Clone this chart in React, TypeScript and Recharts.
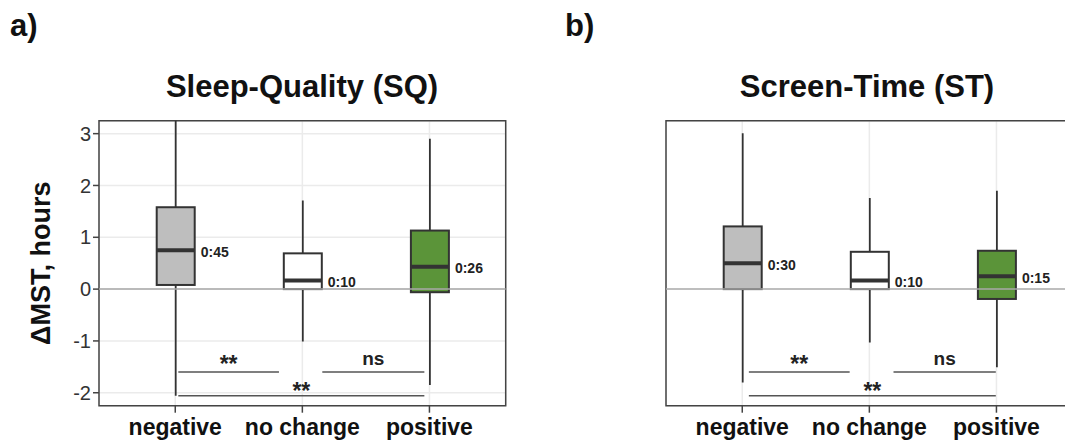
import {
  BarChart,
  Bar,
  XAxis,
  YAxis,
  CartesianGrid,
  ReferenceLine,
  ReferenceArea,
} from "recharts";

const categories = ["negative", "no change", "positive"];
const boxColors = ["#bebebe", "#ffffff", "#5b9439"];

// Sleep-Quality (SQ), ΔMST in hours
const sqMin = [-2.06, -1.01, -1.85];
const sqQ1 = [0.08, 0.0, -0.06];
const sqMedian = [0.75, 0.167, 0.433];
const sqQ3 = [1.58, 0.69, 1.13];
const sqMax = [3.4, 1.71, 2.9];
const sqMedianLabels = ["0:45", "0:10", "0:26"];

// Screen-Time (ST)
const stMin = [-1.8, -1.03, -1.51];
const stQ1 = [0.0, 0.0, -0.19];
const stMedian = [0.5, 0.167, 0.25];
const stQ3 = [1.21, 0.72, 0.74];
const stMax = [3.01, 1.76, 1.9];
const stMedianLabels = ["0:30", "0:10", "0:15"];

// significance brackets (x in category units, 1 = negative)
const sigLabels = ["**", "ns", "**"];
const sigY = [-1.6, -1.6, -2.06];
const sigLabelOffset = [0, 7, -3.5];
const sigFontSize = [23, 19, 23];
const sqSigFrom = [1.024, 2.157, 1.024];
const sqSigTo = [1.816, 2.96, 2.96];
const stSigFrom = [1.052, 2.19, 1.052];
const stSigTo = [1.845, 2.995, 2.995];

const yTicks = [-2, -1, 0, 1, 2, 3];
const xTicks = [1, 2, 3];
const FONT = "'Liberation Sans', Arial, Helvetica, sans-serif";

const makeRows = (
  min: number[],
  q1: number[],
  med: number[],
  q3: number[],
  max: number[],
  labels: string[]
) =>
  categories.map((name, i) => ({
    name,
    pos: i + 1,
    min: min[i],
    q1: q1[i],
    median: med[i],
    q3: q3[i],
    max: max[i],
    label: labels[i],
    fill: boxColors[i],
  }));

const sqRows = makeRows(sqMin, sqQ1, sqMedian, sqQ3, sqMax, sqMedianLabels);
const stRows = makeRows(stMin, stQ1, stMedian, stQ3, stMax, stMedianLabels);

const BoxShape = (props: any) => {
  const { x, y, width, height, payload } = props;
  const top = y;
  const bottom = y + height;
  const toPx = (v: number) =>
    top + ((payload.max - v) / (payload.max - payload.min)) * (bottom - top);
  const cx = x + width / 2;
  const q1 = toPx(payload.q1);
  const q3 = toPx(payload.q3);
  const med = toPx(payload.median);
  return (
    <g>
      <line x1={cx} x2={cx} y1={toPx(payload.max)} y2={q3} stroke="#333" strokeWidth={1.8} />
      <line x1={cx} x2={cx} y1={q1} y2={toPx(payload.min)} stroke="#333" strokeWidth={1.8} />
      <rect x={x} y={q3} width={width} height={q1 - q3} fill={payload.fill} stroke="#333" strokeWidth={2} />
      <line x1={x} x2={x + width} y1={med} y2={med} stroke="#333" strokeWidth={4} />
      <text
        x={x + width + 6}
        y={med + 1.5}
        dominantBaseline="central"
        fontSize={14}
        fontWeight="bold"
        fill="#222"
        fontFamily={FONT}
      >
        {payload.label}
      </text>
    </g>
  );
};

const YLabel = (props: any) => {
  const vb = props.viewBox || { x: 0, y: 120.7, width: 99, height: 285 };
  const cx = vb.x + 50;
  const cy = vb.y + vb.height / 2;
  return (
    <text
      x={cx}
      y={cy}
      transform={`rotate(-90, ${cx}, ${cy})`}
      textAnchor="middle"
      fontSize={27}
      fontWeight="bold"
      fill="#111"
      fontFamily={FONT}
    >
      ΔMST, hours
    </text>
  );
};

type PanelProps = {
  rows: any[];
  sigFrom: number[];
  sigTo: number[];
  showY: boolean;
};

const BoxPanel = ({ rows, sigFrom, sigTo, showY }: PanelProps) => (
  <BarChart
    width={540}
    height={443}
    data={rows}
    margin={{ top: 120.7, right: 34.3, bottom: 7.3, left: 0 }}
  >
    <CartesianGrid stroke="#ebebeb" strokeWidth={1.5} />
    <XAxis
      dataKey="pos"
      type="number"
      domain={[0.4, 3.6]}
      allowDataOverflow
      ticks={xTicks}
      tickFormatter={(v: number) => categories[v - 1]}
      height={30}
      interval={0}
      tickSize={7}
      tickMargin={6}
      axisLine={false}
      tickLine={{ stroke: "#444", strokeWidth: 1.5 }}
      tick={{ fill: "#111", fontSize: 23, fontWeight: "bold", fontFamily: FONT }}
    />
    <YAxis
      type="number"
      domain={[-2.25, 3.25]}
      ticks={yTicks}
      allowDataOverflow
      width={99}
      axisLine={false}
      tickSize={6}
      tickMargin={2}
      tickLine={showY ? { stroke: "#444", strokeWidth: 1.5 } : false}
      tick={showY ? { fill: "#333", fontSize: 20, fontFamily: FONT } : false}
      label={showY ? <YLabel /> : undefined}
    />
    <ReferenceLine y={0} stroke="#a8a8a8" strokeWidth={1.5} />
    <Bar
      dataKey={(d: any) => [d.min, d.max]}
      barSize={38}
      shape={BoxShape}
      isAnimationActive={false}
    />
    {sigLabels.map((lab, i) => (
      <ReferenceLine
        key={i}
        segment={[
          { x: sigFrom[i], y: sigY[i] },
          { x: sigTo[i], y: sigY[i] },
        ]}
        stroke="#555"
        strokeWidth={1.5}
        ifOverflow="visible"
        label={{
          value: lab,
          position: "top",
          offset: sigLabelOffset[i],
          fontSize: sigFontSize[i],
          fontWeight: "bold",
          fill: "#222",
          fontFamily: FONT,
        }}
      />
    ))}
    <ReferenceArea
      x1={0.4}
      x2={3.6}
      y1={-2.25}
      y2={3.25}
      fill="none"
      fillOpacity={0}
      stroke="#444"
      strokeWidth={1.5}
      ifOverflow="visible"
    />
  </BarChart>
);

export default function App() {
  return (
    <div
      style={{
        position: "absolute",
        left: 0,
        top: 0,
        width: 1065,
        height: 443,
        overflow: "hidden",
        background: "#fff",
        fontFamily: FONT,
      }}
    >
      <div style={{ position: "absolute", left: 0, top: 0 }}>
        <BoxPanel rows={sqRows} sigFrom={sqSigFrom} sigTo={sqSigTo} showY />
      </div>
      <div style={{ position: "absolute", left: 566.7, top: 0 }}>
        <BoxPanel rows={stRows} sigFrom={stSigFrom} sigTo={stSigTo} showY={false} />
      </div>
      <svg
        width={1065}
        height={443}
        style={{ position: "absolute", left: 0, top: 0, pointerEvents: "none" }}
      >
        <g fontFamily={FONT} fontWeight="bold" fill="#111">
          <text x={10} y={36} fontSize={31}>a)</text>
          <text x={565} y={36} fontSize={31}>b)</text>
          <text x={302} y={97} fontSize={31} textAnchor="middle">Sleep-Quality (SQ)</text>
          <text x={867} y={97} fontSize={31} textAnchor="middle">Screen-Time (ST)</text>
        </g>
      </svg>
    </div>
  );
}
